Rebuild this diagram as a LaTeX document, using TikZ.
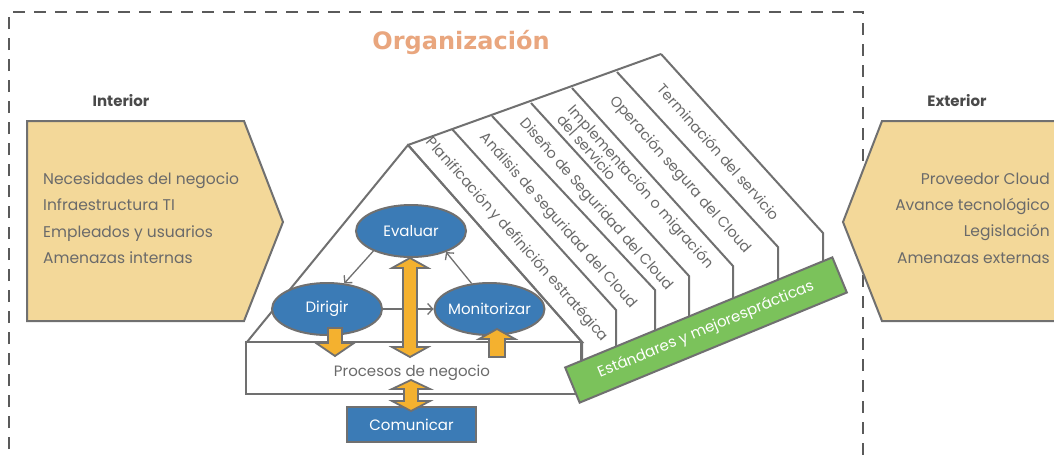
\documentclass[tikz,border=0pt]{standalone}
\usepackage{fontspec}
\setmainfont{Poppins}
\newfontfamily\titlefont{DejaVu Sans}
\usetikzlibrary{arrows.meta,shapes.geometric}

\definecolor{linegray}{HTML}{707070}
\definecolor{bordergray}{HTML}{5A5A5A}
\definecolor{txtgray}{HTML}{6A6A6A}
\definecolor{headgray}{HTML}{4A4A4A}
\definecolor{boxyellow}{HTML}{F3D899}
\definecolor{govblue}{HTML}{3B7BB6}
\definecolor{arrowyellow}{HTML}{F4B12F}
\definecolor{stdgreen}{HTML}{7BC25B}
\definecolor{titleorange}{HTML}{E9A67E}

\begin{document}
\begin{tikzpicture}[x=1pt,y=-1pt,
    outline/.style={draw=linegray, line width=2pt},
    sidebox/.style={outline, fill=boxyellow},
    listtext/.style={inner sep=0pt, text=txtgray, font=\fontsize{15.5}{26.4}\selectfont},
    phase/.style={inner sep=0pt, text=txtgray, rotate=-48.5, align=left, font=\fontsize{14.5}{15}\selectfont},
    govnode/.style={ellipse, outline, fill=govblue, text=white, inner sep=-6pt,
      minimum width=110pt, minimum height=52pt, font=\fontsize{15}{17}\selectfont},
    flow/.style={draw=linegray, line width=1.3pt, -{Straight Barb[length=5pt,width=11pt]}},
    blockarrow/.style={draw=linegray, line width=1.8pt, fill=arrowyellow, line join=miter}]

  \useasboundingbox (0,0) rectangle (1054,455);
  \fill[white] (0,0) rectangle (1054,455);

  % organizacion
  \draw[bordergray, line width=2.2pt, dash pattern=on 12pt off 9pt] (9,470) -- (9,12) -- (863,12) -- (863,470);
  \node[text=titleorange, font=\titlefont\bfseries\fontsize{24}{28}\selectfont] (orgtitle) at (461,42) {Organización};

  % interior / exterior
  \node[text=headgray, font=\bfseries\fontsize{15}{17}\selectfont] (intlabel) at (121,101) {Interior};
  \draw[sidebox] (27,121) -- (244,121) -- (283,222) -- (244,321) -- (27,321) -- cycle;
  \node[listtext, anchor=west, align=left] (intlist) at (43,218) {Necesidades del negocio\\Infraestructura TI\\Empleados y usuarios\\Amenazas internas};

  \node[text=headgray, font=\bfseries\fontsize{15}{17}\selectfont] (extlabel) at (957,101) {Exterior};
  \draw[sidebox] (1060,121) -- (882,121) -- (843,222) -- (882,321) -- (1060,321);
  \node[listtext, anchor=east, align=right] (extlist) at (1050,218) {Proveedor Cloud\\Avance tecnológico\\Legislación\\Amenazas externas};

  % casa
  \draw[outline, fill=white] (247,342) -- (408,145) -- (582,342) -- cycle;
  \node[outline, rectangle, fill=white, minimum width=335pt, minimum height=52pt] (procesos) at (413.5,368) {};
  \node[text=txtgray, font=\fontsize{15}{17}\selectfont] (procesostxt) at (412,373) {Procesos de negocio};

  \draw[outline] (408,145) -- (661,54);
  \foreach \tx/\ty/\cx/\cy/\by in {408/145/582/342/381, 452/129/616/310/367,
      492/116/655/290/351, 531/103/689/276/337, 572/88/733/266/319,
      617/72/778/247/300, 661/54/823/233/282}
    \draw[outline, line join=miter] (\tx,\ty) -- (\cx,\cy) -- (\cx,\by);

  \node[phase] (plan) at (517,240) {Planificación y definición estratégica};
  \node[phase] (analisis) at (558,221) {Análisis de seguridad del Cloud};
  \node[phase] (diseno) at (596,205) {Diseño de Seguridad del Cloud};
  \node[phase] (implem) at (636,191) {Implementación o migración\\del servicio};
  \node[phase] (operacion) at (680,175) {Operación segura del Cloud};
  \node[phase] (terminacion) at (719,152) {Terminación del servicio};

  \node[outline, fill=stdgreen, rotate=22.4, minimum width=289pt, minimum height=38pt,
    text=white, font=\fontsize{15}{17}\selectfont] (estandares) at (706,330) {Estándares y mejoresprácticas};

  % gobierno
  \node[govnode] (evaluar) at (411,231) {Evaluar};
  \node[govnode] (dirigir) at (327,309) {Dirigir};
  \node[govnode] (monitorizar) at (489.5,309) {Monitorizar};

  \draw[flow] (evaluar.208) -- (dirigir.56);
  \draw[flow] (dirigir.east) -- (monitorizar.west);
  \draw[flow] (monitorizar.125) -- (evaluar.329);

  \node[outline, rectangle, fill=govblue, text=white, minimum width=129pt, minimum height=35pt,
    font=\fontsize{15}{17}\selectfont] (comunicar) at (411.5,424.5) {Comunicar};

  % flechas anchas
  \draw[blockarrow] (328,328) -- (342,328) -- (342,343) -- (354,343) -- (335,356)
    -- (316,343) -- (328,343) -- cycle;
  \draw[blockarrow] (410,258) -- (428,268) -- (417,268) -- (417,347) -- (428,347) -- (410,357)
    -- (392,347) -- (403,347) -- (403,268) -- (392,268) -- cycle;
  \draw[blockarrow] (497,329) -- (515,339) -- (505,339) -- (505,357) -- (489,357)
    -- (489,339) -- (479,339) -- cycle;
  \draw[blockarrow] (411,380) -- (430,389) -- (418,389) -- (418,401) -- (430,401) -- (411,411)
    -- (392,401) -- (404,401) -- (404,389) -- (392,389) -- cycle;
\end{tikzpicture}
\end{document}
